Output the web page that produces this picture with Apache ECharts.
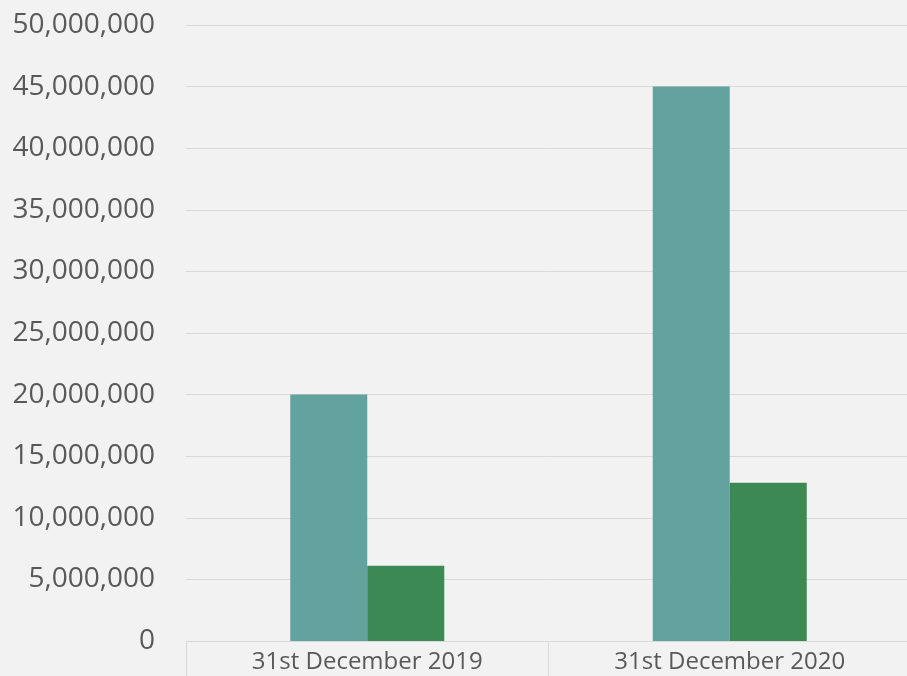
<!DOCTYPE html>
<html>
<head>
<meta charset="utf-8">
<script src="https://cdn.jsdelivr.net/npm/echarts@6/dist/echarts.min.js"></script>
<style>
  html, body { margin: 0; padding: 0; background: #f2f2f2; overflow: hidden; }
  #chart { width: 911px; height: 676px; }
</style>
</head>
<body>
<div id="chart"></div>
<script>
const categories = ['31st December 2019', '31st December 2020'];
const seriesA = [20000000, 45000000];
const seriesB = [6100000, 12850000];
const yMax = 50000000;
const yStep = 5000000;

// chart is 4px wider than the window so the plot runs off the right edge like the original
const myChart = echarts.init(document.getElementById('chart'));
const option = {
  backgroundColor: '#f2f2f2',
  animation: false,
  grid: { left: 186, right: 0, top: 25, bottom: 35 },
  xAxis: {
    type: 'category',
    data: categories,
    axisLine: { lineStyle: { color: '#d9d9d9', width: 1 } },
    axisTick: { show: true, length: 40, lineStyle: { color: '#d9d9d9' } },
    axisLabel: { color: '#595959', fontFamily: 'Open Sans', fontSize: 24, margin: 9 }
  },
  yAxis: {
    type: 'value',
    min: 0,
    max: yMax,
    interval: yStep,
    axisLine: { show: false },
    axisTick: { show: false },
    splitLine: { lineStyle: { color: '#d9d9d9', width: 1 } },
    axisLabel: {
      color: '#595959', fontFamily: 'Open Sans', fontSize: 28, margin: 31,
      formatter: v => v.toLocaleString('en-US')
    }
  },
  series: [
    { name: 'A', type: 'bar', data: seriesA, barWidth: 77, barGap: '0%',
      itemStyle: { color: '#62a39f' } },
    { name: 'B', type: 'bar', data: seriesB, barWidth: 77, barGap: '0%',
      itemStyle: { color: '#3d8953' } }
  ]
};
myChart.setOption(option);
</script>
</body>
</html>
